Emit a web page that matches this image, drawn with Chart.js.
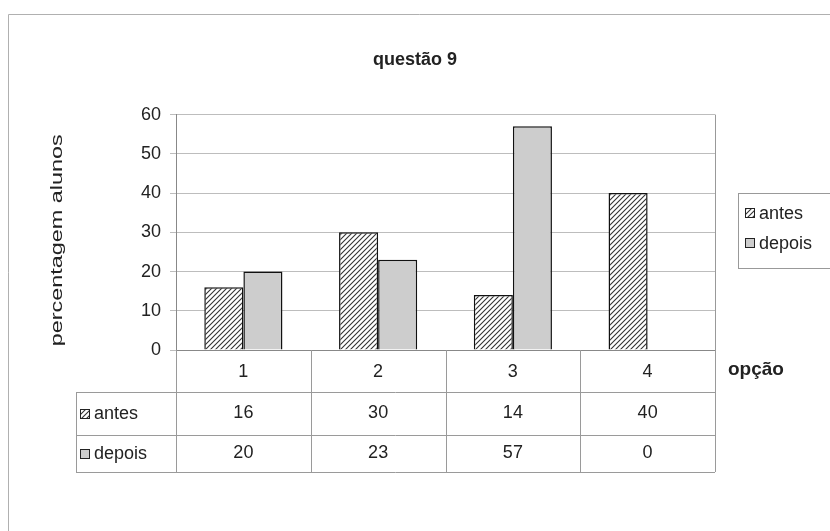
<!DOCTYPE html>
<html><head><meta charset="utf-8">
<script src="https://cdn.jsdelivr.net/npm/chart.js@4.4.1/dist/chart.umd.min.js"></script>
<style>html,body{margin:0;padding:0;background:#fff;}#wrap{width:830px;height:531px;}</style>
</head><body><div id="wrap"><canvas id="c" width="830" height="531"></canvas></div>
<script>
const categories = ['1', '2', '3', '4'];
const antes = [16, 30, 14, 40];
const depois = [20, 23, 57, 0];
const seriesNames = ['antes', 'depois'];
const chartTitle = 'questão 9';
const yTitle = 'percentagem alunos';
const xTitle = 'opção';

const FONT = 'Liberation Sans, Arial, sans-serif';
const TXT = '#222';

function hatchPattern(){
  const s = 5;
  const c = document.createElement('canvas'); c.width = s; c.height = s;
  const x = c.getContext('2d');
  x.fillStyle = '#fff'; x.fillRect(0, 0, s, s);
  x.strokeStyle = '#333'; x.lineWidth = 1.1;
  x.beginPath();
  x.moveTo(0, s); x.lineTo(s, 0);
  x.moveTo(-1, 1); x.lineTo(1, -1);
  x.moveTo(s - 1, s + 1); x.lineTo(s + 1, s - 1);
  x.stroke();
  return x.createPattern(c, 'repeat');
}
const hatch = hatchPattern();
const fills = [hatch, '#cdcdcd'];

function drawKey(ctx, x, y, i){
  ctx.save();
  ctx.fillStyle = fills[i];
  ctx.fillRect(x, y, 10, 10);
  ctx.strokeStyle = '#222'; ctx.lineWidth = 1;
  ctx.strokeRect(x + 0.5, y + 0.5, 9, 9);
  ctx.restore();
}

const extras = {
  id: 'extras',
  afterDraw(chart){
    const ctx = chart.ctx;
    const a = chart.chartArea;
    const xs = chart.scales.x;
    const n = categories.length;
    const cw = (a.right - a.left) / n;
    const r1 = a.bottom + 42, r2 = a.bottom + 85, r3 = a.bottom + 122;
    const tableLeft = 76;
    ctx.save();
    // outer frame
    ctx.strokeStyle = '#b0b0b0'; ctx.lineWidth = 1;
    ctx.beginPath(); ctx.moveTo(8.5, 531); ctx.lineTo(8.5, 14.5); ctx.lineTo(830, 14.5); ctx.stroke();
    // plot right border
    ctx.strokeStyle = '#999';
    ctx.beginPath(); ctx.moveTo(a.right + 0.5, a.top); ctx.lineTo(a.right + 0.5, a.bottom); ctx.stroke();
    // table lines
    ctx.strokeStyle = '#9a9a9a';
    ctx.beginPath();
    for (let i = 0; i <= n; i++){
      const bx = Math.round(a.left + i * cw) + 0.5;
      ctx.moveTo(bx, a.bottom); ctx.lineTo(bx, r3);
    }
    [r1, r2, r3].forEach(y => { ctx.moveTo(tableLeft, y + 0.5); ctx.lineTo(a.right, y + 0.5); });
    ctx.moveTo(tableLeft + 0.5, r1); ctx.lineTo(tableLeft + 0.5, r3);
    ctx.stroke();
    // table values
    ctx.fillStyle = TXT; ctx.font = '18px ' + FONT;
    ctx.textAlign = 'center'; ctx.textBaseline = 'middle';
    const rows = [antes, depois];
    const rowY = [(r1 + r2) / 2, (r2 + r3) / 2];
    rows.forEach((arr, ri) => {
      arr.forEach((v, i) => {
        ctx.fillText(String(v), xs.getPixelForValue(i), rowY[ri]);
      });
    });
    // row labels
    ctx.textAlign = 'left';
    seriesNames.forEach((nm, ri) => {
      drawKey(ctx, 80, Math.round(rowY[ri]) - 5, ri);
      ctx.fillStyle = TXT;
      ctx.fillText(nm, 94, rowY[ri] + 1);
    });
    // x title
    ctx.font = 'bold 19px ' + FONT;
    ctx.fillText(xTitle, 728, a.bottom + 20);
    // y title (rotated)
    ctx.save();
    ctx.font = '17px ' + FONT;
    ctx.translate(57, (a.top + a.bottom) / 2 + 8);
    ctx.rotate(-Math.PI / 2);
    const w = ctx.measureText(yTitle).width;
    ctx.scale(212 / w, 1);
    ctx.textAlign = 'center';
    ctx.fillText(yTitle, 0, 0);
    ctx.restore();
    // legend
    ctx.strokeStyle = '#999';
    ctx.strokeRect(738.5, 193.5, 100, 75);
    ctx.font = '18px ' + FONT; ctx.textAlign = 'left';
    const ly = [213, 243];
    seriesNames.forEach((nm, i) => {
      drawKey(ctx, 745, ly[i] - 5, i);
      ctx.fillStyle = TXT;
      ctx.fillText(nm, 759, ly[i] + 1);
    });
    ctx.restore();
  }
};

new Chart(document.getElementById('c'), {
  type: 'bar',
  data: {
    labels: categories,
    datasets: [
      { label: seriesNames[0], data: antes, backgroundColor: hatch, borderColor: '#111', borderWidth: 1.5 },
      { label: seriesNames[1], data: depois, backgroundColor: '#cdcdcd', borderColor: '#111', borderWidth: 1.5 }
    ]
  },
  options: {
    responsive: false,
    animation: false,
    devicePixelRatio: 1,
    layout: { padding: { left: 115, right: 115, top: 37, bottom: 141 } },
    datasets: { bar: { categoryPercentage: 0.58, barPercentage: 1 } },
    plugins: {
      legend: { display: false },
      tooltip: { enabled: false },
      title: {
        display: true, text: chartTitle, color: TXT,
        font: { family: FONT, size: 18, weight: 'bold' },
        padding: { top: 12, bottom: 44 }
      }
    },
    scales: {
      x: {
        grid: { display: false, drawTicks: false },
        border: { display: true, color: '#888', width: 1 },
        ticks: { color: TXT, font: { family: FONT, size: 18 }, padding: 11 },
        afterFit(s){ s.height = 40; }
      },
      y: {
        min: 0, max: 60,
        ticks: { stepSize: 10, color: TXT, font: { family: FONT, size: 18 }, padding: 9 },
        grid: { color: '#bdbdbd', tickLength: 6, drawTicks: true },
        border: { display: true, color: '#888', width: 1 },
        afterFit(s){ s.width = 61; }
      }
    }
  },
  plugins: [extras]
});
</script></body></html>
